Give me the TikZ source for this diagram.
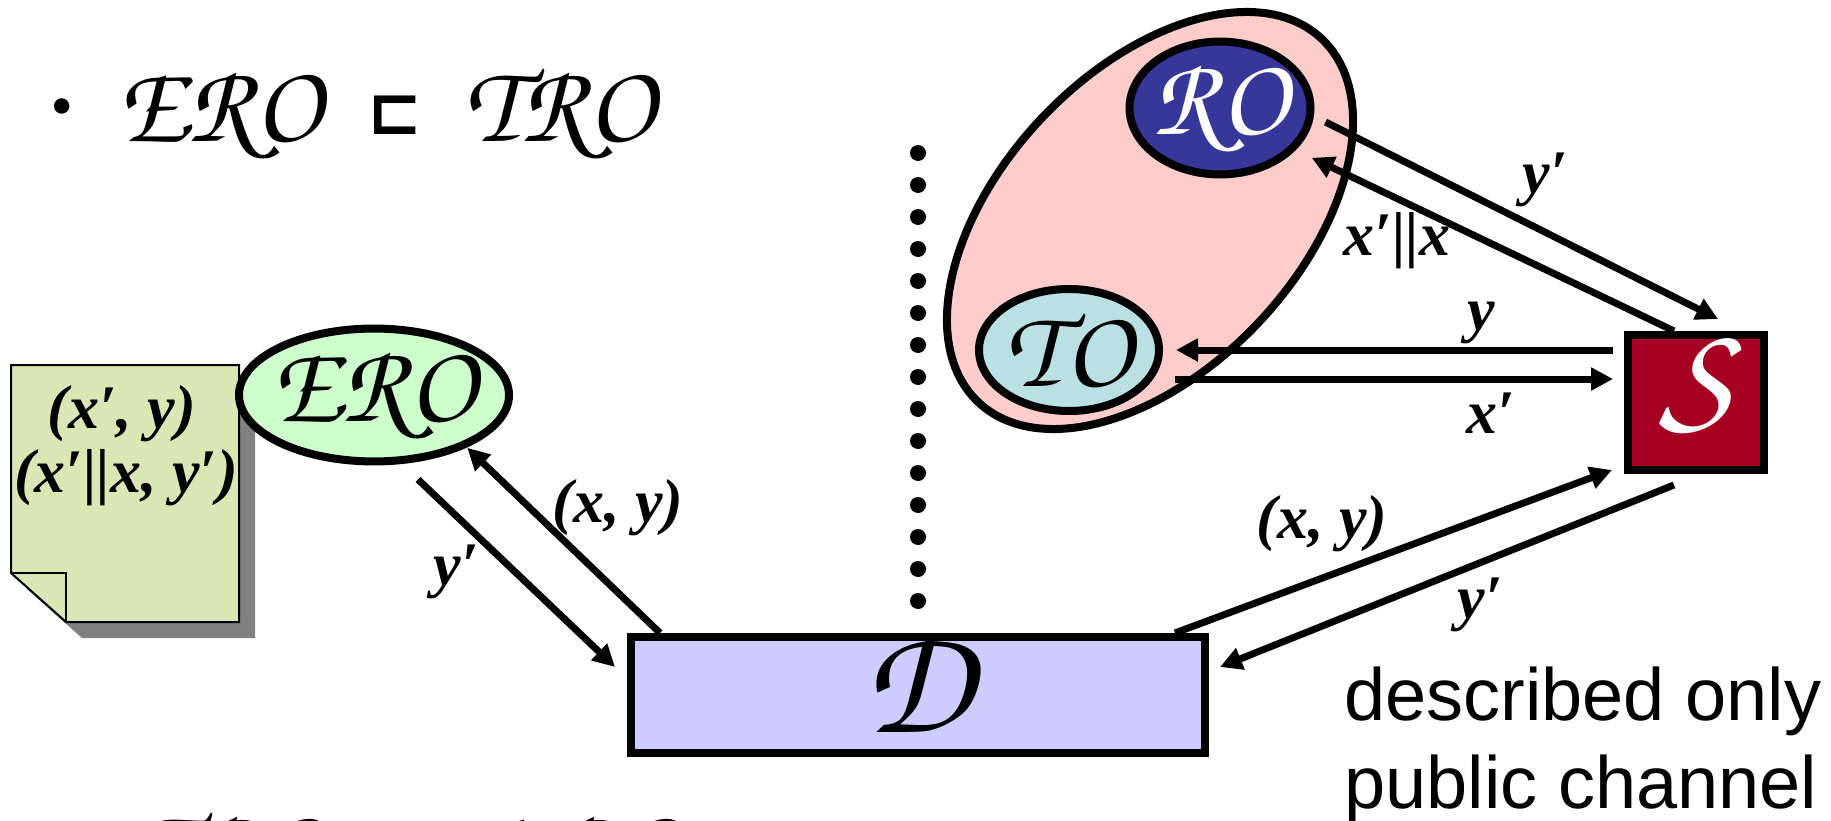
\documentclass[tikz,border=0pt]{standalone}
\usepackage[T1,TU]{fontenc}
\usepackage{fontspec}
\usepackage{graphicx}
\usetikzlibrary{arrows.meta,shapes.geometric,positioning}
\newfontfamily\lblserif{Liberation Serif}
\newfontfamily\lblsans{Liberation Sans}
\newfontfamily\symfont{DejaVu Sans}
\newcommand{\calfnt}[1]{\fontencoding{T1}\fontfamily{pzc}\fontseries{mb}\fontshape{it}\fontsize{#1}{#1}\selectfont}
\newcommand{\ctr}[1]{\makebox[0pt]{#1}}
\newcommand{\sunk}[2]{\raisebox{-#1pt}[0pt][0pt]{\ctr{#2}}}
\definecolor{eroGreen}{HTML}{CCFFCC}
\definecolor{sheetGreen}{HTML}{D9E7B5}
\definecolor{sheetShade}{HTML}{808080}
\definecolor{dBlue}{HTML}{CCCCFF}
\definecolor{grpPink}{HTML}{FFCCCC}
\definecolor{roBlue}{HTML}{373799}
\definecolor{toCyan}{HTML}{B9E0E2}
\definecolor{sRed}{HTML}{A50021}
\tikzset{
  ent/.style={draw, line width=8pt, inner sep=0pt},
  oval/.style={ent, ellipse},
  calsmall/.style={font=\calfnt{112}},
  calbig/.style={font=\calfnt{155}},
  lbl/.style={font=\lblserif\fontsize{62}{62}\selectfont\bfseries\itshape, inner sep=0pt, anchor=base},
  flow/.style={-{Triangle[length=22pt,width=22pt]}, line width=7pt},
  sheet/.style={draw, line width=2pt, fill=sheetGreen, line join=miter}
}
\begin{document}
\begin{tikzpicture}[x=1pt, y=-1pt]
  \useasboundingbox (0,0) rectangle (1831,821);
  \clip (0,0) rectangle (1831,821);
  % remarks on the left
  \node[font=\lblserif\fontsize{130}{130}\selectfont, inner sep=0pt, anchor=base] (bulA) at (62,150) {·};
  \node[calsmall, inner sep=0pt, anchor=base west] (eroTop) at (118,142) {ERO};
  \node[font=\symfont\bfseries\fontsize{66}{66}\selectfont, inner sep=0pt] (sqTop) at (395,115) {⊏};
  \node[calsmall, inner sep=0pt, anchor=base west] (troTop) at (464,142) {TRO};
  \node[calsmall, inner sep=0pt, anchor=base west] (troBot) at (132,885) {TRO};
  \node[font=\symfont\bfseries\fontsize{66}{66}\selectfont, inner sep=0pt] (nsqBot) at (409,858) {⋢};
  \node[calsmall, inner sep=0pt, anchor=base west] (eroBot) at (476,885) {ERO};
  % the sheet
  \fill[sheetShade, shift={(16,16)}] (11,365) -- (239,365) -- (239,622) -- (66,622) -- (11,573) -- cycle;
  \filldraw[sheet] (11,365) -- (239,365) -- (239,622) -- (66,622) -- (11,573) -- cycle;
  \draw[sheet, fill=none] (11,573) -- (66,573) -- (66,622);
  \node[lbl] (pairA) at (122,428) {(x′, y)};
  \node[lbl] (pairB) at (126,492) {(x′||x, y′)};
  % oracles
  \node[oval, fill=eroGreen, calsmall, minimum width=270pt, minimum height=118pt] (ERO) at (374,395) {\ctr{ERO}};
  \node[oval, fill=grpPink, minimum width=500pt, minimum height=298pt, rotate=46.6] (grp) at (1150,220.5) {};
  \node[oval, fill=roBlue, text=white, calsmall, minimum width=181pt, minimum height=120pt] (RO) at (1220,108) {\ctr{RO}};
  \node[oval, fill=toCyan, calsmall, minimum width=180pt, minimum height=122pt] (TO) at (1069,350) {\ctr{TO}};
  \node[ent, fill=sRed, text=white, font=\calfnt{145}, minimum width=136pt, minimum height=135pt] (S) at (1696,402.5) {\sunk{21}{\scalebox{1.1}[1]{S}}};
  \node[ent, fill=dBlue, calbig, minimum width=574pt, minimum height=116pt] (D) at (918,695) {\sunk{37}{D}};
  % separator
  \foreach \k in {0,...,14}
    \fill (918,153+32*\k) circle (8pt);
  % messages
  \draw[flow] ([shift={(11,14)}]RO.east) -- ([shift={(22,-12)}]S.north);
  \draw[flow] ([xshift=-22pt]S.north) -- ([xshift=25pt]RO.south east);
  \draw[flow] ([shift={(-11,-52.5)}]S.west) -- ([xshift=13pt]TO.east);
  \draw[flow] ([shift={(12,29)}]TO.east) -- ([shift={(-11,-23.5)}]S.west);
  \draw[flow] ([xshift=-34pt]D.north east) -- ([shift={(-12,-4)}]S.south west);
  \draw[flow] ([shift={(-22,11)}]S.south) -- ([shift={(11,-28)}]D.east);
  \draw[flow] ([xshift=33pt]D.north west) -- ([shift={(-5,3)}]ERO.south east);
  \draw[flow] ([shift={(44,14)}]ERO.south) -- ([shift={(-12,-28)}]D.west);
  \node[lbl] (lyRS) at (1545,194) {y′};
  \node[lbl] (lxRS) at (1397,255) {x′||x};
  \node[lbl] (lySTO) at (1481,330) {y};
  \node[lbl] (lxTOS) at (1491,433) {x′};
  \node[lbl] (lxyDS) at (1322,538) {(x, y)};
  \node[lbl] (lySD) at (1480,618) {y′};
  \node[lbl] (lxyDE) at (618,522) {(x, y)};
  \node[lbl] (lyED) at (456,585) {y′};
  \node[font=\lblsans\fontsize{74}{88}\selectfont, align=left, inner sep=0pt, anchor=north west] (note) at (1344,667) {described only\\public channel};
\end{tikzpicture}
\end{document}
